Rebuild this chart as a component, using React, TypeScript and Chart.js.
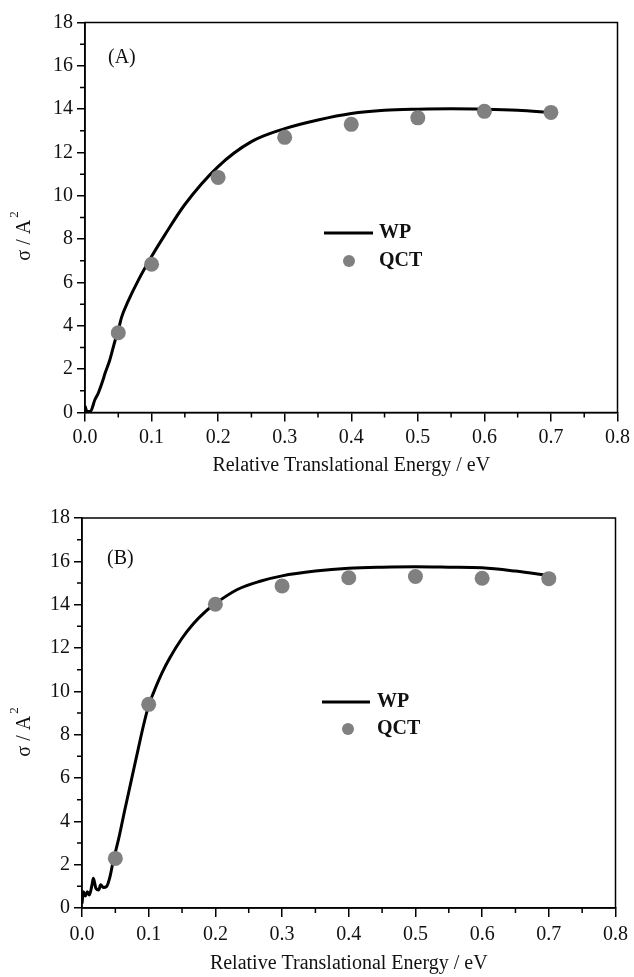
import React, { useEffect, useRef } from "react";
import { Chart, registerables } from "chart.js";

Chart.register(...registerables);

// ---------- data ----------
const qctEnergy = [0.05, 0.1, 0.2, 0.3, 0.4, 0.5, 0.6, 0.7];
const qctSigmaA = [3.68, 6.84, 10.85, 12.7, 13.3, 13.6, 13.9, 13.85];
const qctSigmaB = [2.29, 9.4, 14.02, 14.86, 15.24, 15.3, 15.22, 15.2];

const wpEnergyA = [0, 0.003, 0.008, 0.015, 0.02, 0.027, 0.03, 0.037, 0.045, 0.05, 0.055, 0.065, 0.08, 0.1, 0.12, 0.15, 0.2, 0.25, 0.3, 0.35, 0.4, 0.45, 0.5, 0.55, 0.6, 0.65, 0.7];
const wpSigmaA = [0.3, 0.05, 0.05, 0.6, 0.9, 1.5, 1.8, 2.4, 3.3, 3.8, 4.4, 5.15, 6.1, 7.2, 8.2, 9.6, 11.35, 12.5, 13.1, 13.5, 13.8, 13.95, 14.0, 14.02, 14.0, 13.95, 13.85];

const wpEnergyB = [0, 0.002, 0.005, 0.008, 0.011, 0.015, 0.017, 0.021, 0.025, 0.028, 0.032, 0.037, 0.042, 0.047, 0.055, 0.064, 0.074, 0.084, 0.092, 0.1, 0.107, 0.12, 0.132, 0.15, 0.167, 0.185, 0.2, 0.233, 0.267, 0.3, 0.35, 0.4, 0.45, 0.5, 0.55, 0.6, 0.65, 0.7];
const wpSigmaB = [0.2, 0.75, 0.55, 0.75, 0.6, 1.07, 1.37, 0.9, 0.83, 1.07, 0.95, 1.0, 1.45, 2.2, 3.2, 4.5, 5.9, 7.3, 8.4, 9.35, 9.92, 10.85, 11.56, 12.45, 13.12, 13.68, 14.05, 14.7, 15.08, 15.33, 15.55, 15.68, 15.73, 15.75, 15.73, 15.7, 15.55, 15.35];

const xTickValues = [0, 0.1, 0.2, 0.3, 0.4, 0.5, 0.6, 0.7, 0.8];
const yTickValues = [0, 2, 4, 6, 8, 10, 12, 14, 16, 18];
const xTitle = "Relative Translational Energy / eV";
const yTitleMain = "σ / A";
const yTitleSup = "2";
const legendLine = "WP";
const legendDots = "QCT";

// ---------- layout ----------
const W = 634;
const FONT = '"Liberation Serif", "Times New Roman", serif';

type PanelCfg = {
  label: string;
  top: number;
  height: number;
  plot: { left: number; right: number; top: number; bottom: number };
  labelPos: [number, number];
  legLine: [number, number, number];
  legText: number;
  legDot: [number, number];
  xTitleY: number;
  xTickPad: number;
  yTitlePos: [number, number];
  wpX: number[];
  wpY: number[];
  qctY: number[];
};

const panels: PanelCfg[] = [
  {
    label: "(A)",
    top: 0,
    height: 488,
    plot: { left: 85, right: 620, top: 22.5, bottom: 412.5 },
    labelPos: [108, 58],
    legLine: [324, 373, 233],
    legText: 379,
    legDot: [349, 261],
    xTitleY: 466,
    xTickPad: 4,
    yTitlePos: [25, 236],
    wpX: wpEnergyA,
    wpY: wpSigmaA,
    qctY: qctSigmaA,
  },
  {
    label: "(B)",
    top: 488,
    height: 489,
    plot: { left: 82, right: 616, top: 30, bottom: 420 },
    labelPos: [107, 71],
    legLine: [322, 370, 214],
    legText: 377,
    legDot: [348, 241],
    xTitleY: 476,
    xTickPad: 6,
    yTitlePos: [25, 244],
    wpX: wpEnergyB,
    wpY: wpSigmaB,
    qctY: qctSigmaB,
  },
];

function Panel({ cfg }: { cfg: PanelCfg }) {
  const ref = useRef<HTMLCanvasElement | null>(null);
  useEffect(() => {
    if (!ref.current) return;
    const decor = {
      id: "decor",
      afterDraw(chart: any) {
        const ctx = chart.ctx as CanvasRenderingContext2D;
        const { left, right, top, bottom } = chart.chartArea;
        const xs = chart.scales.x;
        const ys = chart.scales.y;
        ctx.save();
        ctx.strokeStyle = "#000";
        ctx.lineWidth = 1.5;
        ctx.strokeRect(left, top, right - left, bottom - top);
        // minor ticks
        ctx.beginPath();
        for (let i = 0; i < xTickValues.length - 1; i++) {
          const v = (xTickValues[i] + xTickValues[i + 1]) / 2;
          const px = xs.getPixelForValue(v);
          ctx.moveTo(px, bottom);
          ctx.lineTo(px, bottom + 5);
        }
        for (let i = 0; i < yTickValues.length - 1; i++) {
          const v = (yTickValues[i] + yTickValues[i + 1]) / 2;
          const py = ys.getPixelForValue(v);
          ctx.moveTo(left, py);
          ctx.lineTo(left - 5, py);
        }
        ctx.stroke();
        ctx.fillStyle = "#111";
        // panel label
        ctx.font = `20px ${FONT}`;
        ctx.textAlign = "left";
        ctx.textBaseline = "middle";
        ctx.fillText(cfg.label, cfg.labelPos[0], cfg.labelPos[1]);
        // x title
        ctx.textAlign = "center";
        ctx.fillText(xTitle, (left + right) / 2, cfg.xTitleY);
        // y title
        ctx.save();
        ctx.translate(cfg.yTitlePos[0], cfg.yTitlePos[1]);
        ctx.rotate(-Math.PI / 2);
        ctx.font = `20px ${FONT}`;
        const wMain = ctx.measureText(yTitleMain).width;
        ctx.font = `13px ${FONT}`;
        const wSup = ctx.measureText(yTitleSup).width;
        const start = -(wMain + wSup + 2) / 2;
        ctx.textAlign = "left";
        ctx.font = `20px ${FONT}`;
        ctx.fillText(yTitleMain, start, 0);
        ctx.font = `13px ${FONT}`;
        ctx.fillText(yTitleSup, start + wMain + 2, -10);
        ctx.restore();
        // legend
        ctx.strokeStyle = "#000";
        ctx.lineWidth = 3;
        ctx.beginPath();
        ctx.moveTo(cfg.legLine[0], cfg.legLine[2]);
        ctx.lineTo(cfg.legLine[1], cfg.legLine[2]);
        ctx.stroke();
        ctx.fillStyle = "#808080";
        ctx.beginPath();
        ctx.arc(cfg.legDot[0], cfg.legDot[1], 6, 0, Math.PI * 2);
        ctx.fill();
        ctx.fillStyle = "#111";
        ctx.font = `bold 20px ${FONT}`;
        ctx.textAlign = "left";
        ctx.fillText(legendLine, cfg.legText, cfg.legLine[2]);
        ctx.fillText(legendDots, cfg.legText, cfg.legDot[1]);
        ctx.restore();
      },
    };

    const chart = new Chart(ref.current, {
      type: "scatter",
      data: {
        datasets: [
          {
            label: legendDots,
            data: qctEnergy.map((x, i) => ({ x, y: cfg.qctY[i] })),
            showLine: false,
            pointRadius: 7.5,
            pointBackgroundColor: "#808080",
            pointBorderWidth: 0,
            order: 0,
          },
          {
            label: legendLine,
            data: cfg.wpX.map((x, i) => ({ x, y: cfg.wpY[i] })),
            showLine: true,
            borderColor: "#000",
            borderWidth: 3,
            pointRadius: 0,
            cubicInterpolationMode: "monotone",
            order: 1,
          } as any,
        ],
      },
      options: {
        animation: false,
        responsive: false,
        events: [],
        layout: {
          padding: { left: 0, top: cfg.plot.top, right: W - cfg.plot.right, bottom: 0 },
        },
        plugins: { legend: { display: false }, tooltip: { enabled: false } },
        scales: {
          x: {
            type: "linear",
            min: 0,
            max: 0.8,
            afterFit: (s: any) => {
              s.height = cfg.height - cfg.plot.bottom;
            },
            afterBuildTicks: (s: any) => {
              s.ticks = xTickValues.map((v) => ({ value: v }));
            },
            ticks: {
              callback: (v: any) => Number(v).toFixed(1),
              font: { family: FONT, size: 20 },
              color: "#111",
              padding: cfg.xTickPad,
              maxRotation: 0,
            },
            grid: {
              display: true,
              drawOnChartArea: false,
              drawTicks: true,
              tickLength: 9,
              color: "#000",
              lineWidth: 1.5,
            },
            border: { display: true, color: "#000", width: 1.5 },
          },
          y: {
            type: "linear",
            min: 0,
            max: 18,
            afterFit: (s: any) => {
              s.width = cfg.plot.left;
            },
            afterBuildTicks: (s: any) => {
              s.ticks = yTickValues.map((v) => ({ value: v }));
            },
            ticks: {
              callback: (v: any) => String(v),
              font: { family: FONT, size: 20 },
              color: "#111",
              padding: 4,
            },
            grid: {
              display: true,
              drawOnChartArea: false,
              drawTicks: true,
              tickLength: 8,
              color: "#000",
              lineWidth: 1.5,
            },
            border: { display: true, color: "#000", width: 1.5 },
          },
        },
      } as any,
      plugins: [decor],
    });
    return () => chart.destroy();
  }, [cfg]);

  return (
    <canvas
      ref={ref}
      width={W}
      height={cfg.height}
      style={{ position: "absolute", left: 0, top: cfg.top, width: W, height: cfg.height }}
    />
  );
}

export default function App() {
  return (
    <div style={{ position: "absolute", left: 0, top: 0, width: W, height: 977, background: "#fff" }}>
      {panels.map((p) => (
        <Panel key={p.label} cfg={p} />
      ))}
    </div>
  );
}
